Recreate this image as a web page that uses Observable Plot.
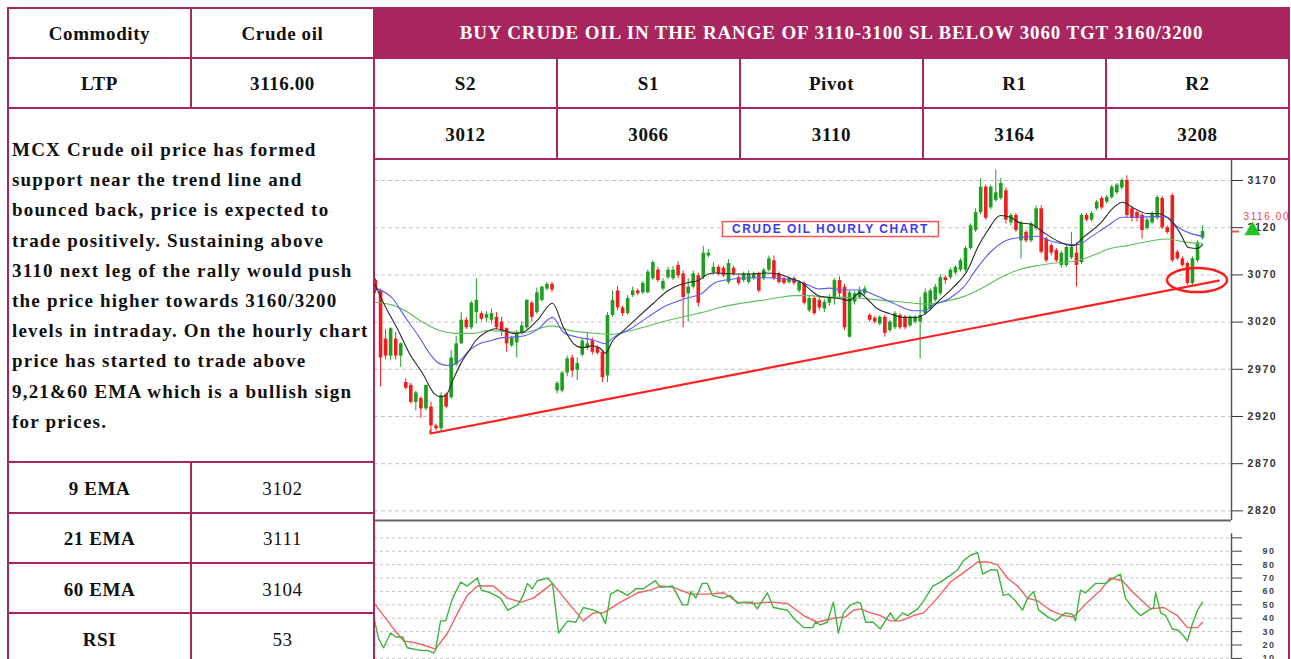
<!DOCTYPE html>
<html>
<head>
<meta charset="utf-8">
<script src="https://cdn.jsdelivr.net/npm/d3@7"></script>
<script src="https://cdn.jsdelivr.net/npm/@observablehq/plot@0.6"></script>
<style>
html,body{margin:0;padding:0;background:#fff;}
#page{position:relative;width:1291px;height:659px;overflow:hidden;font-family:"Liberation Serif","Times New Roman",serif;color:#111;}
.cell{position:absolute;display:flex;align-items:center;justify-content:center;font-weight:bold;font-size:19px;letter-spacing:0.6px;}
.reg{font-weight:normal;}
.ln{position:absolute;background:#a8255e;z-index:10;}
#head{position:absolute;left:374px;top:8px;width:915px;height:50px;background:#a8255e;color:#fff;display:flex;align-items:center;justify-content:center;font-weight:bold;font-size:19px;letter-spacing:0.85px;}
#para{position:absolute;left:12px;top:135px;font-weight:bold;font-size:19px;line-height:30.2px;white-space:nowrap;letter-spacing:1.2px;}
.chart{position:absolute;left:374px;z-index:1;}
</style>
</head>
<body>
<div id="page">
  <div id="head">BUY CRUDE OIL IN THE RANGE OF 3110-3100 SL BELOW 3060 TGT 3160/3200</div>
  <div id="para"></div>
</div>
<script>
// ---------- table texts ----------
const infoLabels = ["Commodity", "LTP"];
const infoValues = ["Crude oil", "3116.00"];
const pivotNames = ["S2", "S1", "Pivot", "R1", "R2"];
const pivotValues = [3012, 3066, 3110, 3164, 3208];
const indNames = ["9 EMA", "21 EMA", "60 EMA", "RSI"];
const indValues = [3102, 3111, 3104, 53];
const commentLines = [
  "MCX Crude oil price has formed",
  "support near the trend line and",
  "bounced back, price is expected to",
  "trade positively. Sustaining above",
  "3110 next leg of the rally would push",
  "the price higher towards 3160/3200",
  "levels in intraday. On the hourly chart",
  "price has started to trade above",
  "9,21&60 EMA which is a bullish sign",
  "for prices."
];

// ---------- candle data (hourly) ----------
const opens = [
3064,3053,3002,2984,3002,2984,2956,2953,2935,2939,
2928,2930,2910,2907,2943,2940,2975,2997,3022,3014,
3030,3029,3024,3022,3025,3020,3013,2995,2998,3008,
3014,3040,3030,3043,3055,3060,2947,2947,2966,2982,
2969,2985,2992,3000,2993,2988,2963,3027,3053,3035,
3029,3048,3053,3051,3051,3066,3075,3055,3067,3066,
3080,3071,3050,3057,3069,3067,3090,3072,3078,3077,
3062,3077,3067,3064,3062,3066,3071,3066,3075,3085,
3071,3066,3062,3066,3053,3061,3032,3045,3043,3034,
3040,3045,3064,3057,3004,3041,3046,3050,3027,3024,
3018,3025,3011,3014,3027,3025,3016,3020,3020,3029,
3034,3043,3050,3067,3067,3072,3075,3075,3098,3117,
3136,3163,3141,3149,3151,3159,3125,3133,3106,3115,
3106,3119,3140,3108,3101,3096,3080,3080,3088,3093,
3083,3133,3128,3140,3151,3147,3152,3157,3162,3170,
3140,3136,3133,3119,3125,3130,3151,3120,3154,3094,
3087,3082,3061,3085,3109];
const highs = [
3066,3055,3012,3014,3009,2998,2960,2955,2947,2941,
2953,2935,2912,2945,2945,2990,3005,3030,3025,3042,
3066,3031,3031,3034,3030,3025,3014,3005,3011,3020,
3044,3042,3056,3058,3062,3062,2957,2968,2984,2985,
2982,3002,3009,3003,2995,2990,3030,3053,3058,3037,
3048,3057,3055,3063,3075,3085,3078,3066,3078,3079,
3084,3074,3066,3074,3072,3100,3097,3083,3080,3079,
3086,3079,3069,3073,3074,3073,3073,3077,3090,3090,
3073,3068,3068,3068,3064,3063,3048,3047,3046,3044,
3049,3066,3068,3060,3053,3052,3057,3058,3029,3026,
3027,3027,3022,3031,3029,3027,3027,3027,3046,3055,
3055,3060,3070,3069,3077,3080,3087,3100,3124,3140,
3172,3165,3165,3181,3172,3162,3135,3135,3127,3117,
3126,3143,3143,3110,3103,3098,3095,3101,3115,3104,
3135,3135,3137,3149,3153,3154,3165,3167,3172,3175,
3142,3138,3135,3130,3137,3154,3153,3122,3156,3096,
3089,3084,3089,3106,3122];
const lows = [
3050,2951,2980,2979,2980,2972,2948,2933,2926,2918,
2926,2905,2905,2903,2928,2938,2973,2996,3012,3012,
3018,3021,3020,3018,3012,3005,2988,2993,2982,3006,
3012,3020,3028,3041,3053,3051,2944,2945,2962,2961,
2958,2983,2990,2985,2985,2956,2956,3025,3032,3026,
3027,3046,3048,3049,3050,3064,3062,3053,3065,3064,
3066,3014,3020,3055,3036,3065,3088,3070,3069,3067,
3060,3069,3059,3062,3060,3064,3051,3064,3073,3064,
3060,3059,3060,3059,3051,3038,3030,3027,3032,3030,
3037,3038,3046,3011,3003,3038,3044,3048,3020,3018,
3016,3004,3009,3012,3012,3012,3014,3018,2981,3027,
3032,3041,3048,3060,3065,3070,3073,3073,3096,3115,
3134,3128,3139,3147,3149,3124,3122,3115,3087,3104,
3104,3117,3092,3083,3090,3083,3077,3078,3086,3057,
3081,3126,3126,3138,3139,3145,3150,3155,3160,3130,
3126,3126,3108,3117,3123,3128,3118,3113,3083,3085,
3078,3059,3059,3083,3107];
const closes = [
3053,2982,2984,3013,2984,2997,2950,2935,2945,2928,
2953,2910,2907,2942,2930,2982,2997,3022,3014,3040,
3043,3023,3028,3029,3014,3010,2997,3003,3008,3016,
3043,3025,3051,3057,3060,3054,2955,2966,2981,2968,
2976,3000,2997,2988,2987,2961,3027,3043,3035,3029,
3045,3053,3050,3061,3073,3083,3064,3063,3075,3075,
3069,3046,3057,3071,3040,3093,3093,3078,3071,3069,
3082,3071,3061,3071,3071,3071,3053,3075,3087,3066,
3062,3061,3066,3061,3062,3040,3045,3029,3035,3041,
3046,3064,3050,3014,3051,3050,3053,3055,3022,3020,
3025,3008,3020,3029,3014,3014,3025,3025,3027,3051,
3053,3057,3067,3064,3075,3078,3085,3098,3122,3136,
3163,3130,3163,3157,3167,3128,3133,3117,3125,3106,
3124,3140,3094,3085,3093,3085,3093,3099,3099,3080,
3133,3128,3135,3147,3141,3152,3163,3165,3170,3133,
3130,3130,3117,3128,3135,3152,3120,3115,3085,3087,
3080,3061,3087,3104,3116];

// moving averages: [bar index, price]
const ema9 = [[-0.2,3061],[1.8,3038],[4.8,3008],[6.7,2987],[9.3,2966],[11.7,2944],[12.7,2941],[13.9,2942],[15.3,2958],[16.9,2976],[18.6,2990],[19.8,3000],[21.8,3009],[23.8,3013],[25.6,3011],[27.2,3008],[29.1,3009],[32.1,3022],[35.1,3040],[37.3,3014],[39.3,2997],[41.0,2993],[43.0,2995],[44.6,2992],[45.6,2987],[47.0,3000],[49.2,3011],[52.0,3025],[55.1,3040],[57.9,3053],[60.1,3059],[62.1,3062],[64.0,3064],[66.0,3071],[67.4,3072],[71.4,3071],[74.6,3071],[77.3,3072],[79.9,3071],[82.5,3066],[84.5,3062],[86.5,3053],[87.8,3048],[90.0,3046],[91.8,3045],[94.0,3043],[96.0,3051],[97.4,3045],[99.3,3035],[101.9,3029],[104.7,3025],[107.3,3025],[109.3,3030],[111.8,3043],[114.6,3057],[117.4,3075],[119.4,3099],[121.4,3117],[123.9,3133],[125.9,3131],[127.9,3125],[129.9,3124],[132.5,3115],[135.2,3106],[138.4,3101],[140.4,3110],[143.8,3125],[146.3,3141],[148.1,3147],[150.3,3141],[153.1,3135],[155.1,3135],[157.6,3128],[159.6,3114],[161.2,3099],[163.0,3098],[164.0,3102]];
const ema21 = [[0,3056],[3.4,3045],[5.9,3025],[8.7,3004],[10.7,2987],[12.7,2976],[14.7,2974],[16.7,2979],[18.6,2990],[20.6,2997],[22.6,3000],[24.6,3003],[26.6,3004],[29.1,3005],[32.1,3012],[35.1,3025],[37.3,3009],[40.1,3004],[43.2,3001],[45.6,2997],[47.0,3003],[50.6,3013],[53.9,3025],[57.9,3038],[61.5,3045],[64.6,3050],[67.4,3062],[71.4,3066],[75.4,3067],[77.9,3067],[80.5,3066],[83.3,3064],[85.9,3059],[87.8,3055],[90.0,3056],[92.8,3054],[96.0,3054],[99.3,3048],[102.7,3040],[106.7,3032],[108.7,3032],[110.6,3038],[113.8,3045],[116.6,3057],[119.4,3078],[121.9,3094],[125.3,3107],[128.5,3110],[131.3,3111],[133.8,3106],[136.4,3103],[139.2,3102],[141.8,3110],[145.2,3122],[148.1,3131],[151.1,3131],[155.1,3132],[157.0,3131],[159.0,3121],[161.6,3114],[164.0,3111]];
const ema60 = [[-0.4,3041],[3.4,3038],[5.9,3032],[9.3,3020],[12.7,3011],[15.9,3008],[19.2,3008],[22.6,3011],[25.8,3010],[29.1,3009],[35.1,3016],[38.7,3011],[44.0,3008],[46.6,3007],[52.0,3013],[58.1,3022],[62.1,3027],[64.6,3030],[68.6,3036],[72.6,3040],[76.5,3043],[79.9,3046],[83.3,3048],[86.5,3048],[87.8,3047],[94.0,3046],[100.7,3043],[106.7,3040],[109.3,3039],[113.8,3043],[116.6,3047],[120.6,3057],[123.9,3067],[127.3,3075],[131.3,3080],[133.8,3082],[139.2,3085],[142.4,3091],[145.7,3098],[149.1,3101],[153.7,3106],[157.0,3108],[160.2,3105],[164.0,3103]];
const trendLine = [[10.9,2905],[10.9,2902],[167.2,3064]];
const supportZone = [{i: 163.0, p: 3064}];
const ltp = 3116;
const chartTitle = {i: 90.2, p: 3118.6, text: "CRUDE OIL HOURLY CHART"};
const priceTicks = [2820,2870,2920,2970,3020,3070,3120,3170];

// RSI(14) and its signal: [bar index, value]
const rsiLine = [[-0.4,42],[0.6,25],[1.6,18],[3.0,29],[4.0,26],[5.4,26],[6.3,18],[7.5,17],[8.9,16],[10.3,16],[11.5,14],[11.9,16],[12.9,38],[13.9,38],[15.3,55],[16.9,67],[18.2,64],[20.2,70],[21.0,61],[22.8,59],[24.8,55],[26.2,46],[28.2,50],[29.3,57],[30.1,66],[31.1,62],[32.1,68],[34.1,70],[35.1,66],[36.3,29],[38.1,38],[39.7,37],[41.2,48],[43.2,46],[44.6,44],[45.6,36],[46.6,58],[48.0,61],[50.0,57],[51.6,62],[53.1,62],[55.5,68],[56.5,63],[58.9,64],[60.9,50],[61.9,50],[62.5,60],[63.5,55],[64.8,66],[65.8,66],[66.8,57],[68.8,55],[70.4,57],[71.8,51],[73.0,52],[74.8,52],[75.7,47],[77.7,59],[78.9,48],[81.7,46],[82.9,40],[84.9,33],[86.7,33],[87.2,37],[88.2,35],[89.6,37],[90.8,52],[91.8,29],[92.8,44],[94.2,50],[95.6,52],[96.2,51],[97.2,37],[98.7,37],[100.1,32],[102.1,44],[103.1,38],[104.5,44],[105.5,42],[107.5,47],[108.7,53],[110.5,64],[112.0,67],[114.0,72],[115.4,76],[116.6,83],[118.0,87],[119.4,89],[120.4,73],[122.0,76],[123.3,76],[124.5,57],[125.5,58],[126.9,53],[128.3,46],[129.3,55],[130.5,60],[131.5,46],[133.3,41],[134.8,38],[136.8,44],[138.2,43],[138.8,38],[139.8,61],[140.8,59],[142.8,66],[144.8,66],[146.3,70],[147.7,73],[148.7,55],[150.1,48],[151.7,42],[153.3,46],[154.3,48],[154.7,59],[155.7,44],[156.7,42],[158.0,32],[159.2,31],[160.2,27],[161.0,23],[162.0,36],[163.0,46],[164.0,52]];
const rsiSignal = [[-0.4,52],[1.6,42],[3.6,32],[5.6,23],[7.5,22],[9.5,20],[11.9,17],[14.3,29],[16.3,44],[18.2,57],[20.2,64],[23.4,64],[26.2,55],[28.8,52],[31.3,55],[35.1,66],[38.1,52],[41.2,38],[43.2,44],[45.2,44],[48.6,52],[52.0,59],[54.5,61],[56.5,64],[59.1,63],[62.5,58],[65.8,58],[69.0,59],[71.8,52],[75.0,51],[78.3,52],[81.7,51],[84.9,42],[87.6,37],[90.8,40],[93.2,41],[94.8,46],[96.2,47],[98.2,44],[100.1,42],[102.1,38],[104.1,38],[106.7,42],[108.7,44],[111.4,55],[114.0,67],[116.6,74],[119.4,82],[121.4,82],[123.3,80],[125.3,70],[127.3,64],[129.3,55],[131.3,53],[133.8,46],[136.4,42],[138.4,41],[141.2,52],[143.8,61],[145.7,70],[148.1,68],[150.3,59],[153.7,47],[156.3,48],[159.0,42],[161.0,33],[163.0,33],[164.0,37]];
const rsiTicks = [10,20,30,40,50,60,70,80,90,100];

// ---------- HTML table ----------
const page = document.getElementById("page");
function cell(x, y, w, h, text, cls) {
  const d = document.createElement("div");
  d.className = "cell" + (cls ? " " + cls : "");
  Object.assign(d.style, {left: x + "px", top: y + "px", width: w + "px", height: h + "px"});
  d.textContent = text;
  page.appendChild(d);
}
infoLabels.forEach((t, k) => cell(9, 10 + 50 * k, 181, 48, t));
infoValues.forEach((t, k) => cell(192, 10 + 50 * k, 181, 48, t));
pivotNames.forEach((t, k) => cell(375 + 183 * k, 60, 181, 48, t));
pivotValues.forEach((t, k) => cell(375 + 183 * k, 110, 181, 49, String(t)));
indNames.forEach((t, k) => cell(9, 465 + 50.3 * k, 181, 48, t));
indValues.forEach((t, k) => cell(192, 465 + 50.3 * k, 181, 48, String(t), "reg"));
document.getElementById("para").innerHTML = commentLines.join("<br>");

const hLines = [[7,7,1290],[57,7,1290],[107,7,1290],[158,373,1290],[461,7,375],[512,7,375],[562,7,375],[612,7,375]];
const vLines = [[7,7,659],[190,7,108],[190,461,659],[373,7,659],[556,57,159],[739,57,159],[922,57,159],[1105,57,159],[1288,7,659]];
hLines.forEach(([y, x1, x2]) => { const d = document.createElement("div"); d.className = "ln"; Object.assign(d.style, {left: x1 + "px", top: y + "px", width: (x2 - x1) + "px", height: "2px"}); page.appendChild(d); });
vLines.forEach(([x, y1, y2]) => { const d = document.createElement("div"); d.className = "ln"; Object.assign(d.style, {left: x + "px", top: y1 + "px", width: "2px", height: (y2 - y1) + "px"}); page.appendChild(d); });

// ---------- charts ----------
const RED = "#f21c1c", GREEN = "#1e9e1e";
const candles = opens.map((o, i) => ({i, o, h: highs[i], l: lows[i], c: closes[i]}));
const candleColor = d => d.c >= d.o ? GREEN : RED;
const X_DOMAIN = [-0.2, 169.74];
const Y_DOMAIN = [2809.8, 3191.2];
const svgStyle = {fontFamily: "'Liberation Sans', Arial, sans-serif", letterSpacing: "1.6px", overflow: "hidden", background: "transparent"};

const priceChart = Plot.plot({
  width: 915, height: 362,
  marginLeft: 0, marginRight: 58, marginTop: 0, marginBottom: 2,
  style: svgStyle,
  x: {domain: X_DOMAIN, axis: null},
  y: {domain: Y_DOMAIN, axis: null},
  marks: [
    Plot.gridY(priceTicks, {stroke: "#c4c4c4", strokeOpacity: 1, strokeDasharray: "4 3"}),
    Plot.ruleY([Y_DOMAIN[0]], {stroke: "#666", strokeWidth: 2}),
    Plot.ruleX([X_DOMAIN[1]], {stroke: "#555", strokeWidth: 1.5}),
    Plot.axisY(priceTicks, {anchor: "right", tickSize: 11, tickPadding: 5, tickFormat: d => String(d), fontSize: 10.5, fontWeight: "bold", color: "#333"}),
    Plot.ruleX(candles, {x: "i", y1: "l", y2: "h", stroke: candleColor, strokeWidth: 1}),
    Plot.ruleX(candles, {x: "i", y1: "o", y2: "c", stroke: candleColor, strokeWidth: 3.6}),
    Plot.line(ema60, {stroke: "#5cbf5c", strokeWidth: 1.1, curve: "monotone-x"}),
    Plot.line(ema21, {stroke: "#5a5af5", strokeWidth: 1.1, curve: "monotone-x"}),
    Plot.line(ema9, {stroke: "#2a2a2a", strokeWidth: 1.1, curve: "monotone-x"}),
    Plot.line(trendLine, {stroke: "#ff2222", strokeWidth: 2.2}),
    Plot.dot(supportZone, {x: "i", y: "p", render: (index, scales, values) => {
      const g = d3.create("svg:g");
      g.append("ellipse").attr("cx", values.x[0]).attr("cy", values.y[0]).attr("rx", 30).attr("ry", 12)
        .attr("fill", "none").attr("stroke", "#ff1a1a").attr("stroke-width", 2.4);
      return g.node();
    }}),
    Plot.text([chartTitle], {x: "i", y: "p", text: "text", fill: "#3a3af0", fontSize: 12, fontWeight: "bold",
      render: (index, scales, values, dims, ctx, next) => {
        const g = next(index, scales, values, dims, ctx);
        g.setAttribute("letter-spacing", "1.5px");
        const r = document.createElementNS("http://www.w3.org/2000/svg", "rect");
        r.setAttribute("x", values.x[0] - 108); r.setAttribute("y", values.y[0] - 7.5);
        r.setAttribute("width", 216); r.setAttribute("height", 15);
        r.setAttribute("fill", "#fff"); r.setAttribute("stroke", "#f05a5a"); r.setAttribute("stroke-width", 1.5);
        g.insertBefore(r, g.firstChild);
        return g;
      }}),
    Plot.ruleY([ltp], {x1: X_DOMAIN[1] + 0.1, x2: X_DOMAIN[1] + 1.6, stroke: "#f05050", strokeWidth: 2}),
    Plot.text([ltp], {y: d => d, frameAnchor: "right", textAnchor: "start", dx: 12, dy: -15, text: d => d.toFixed(2), fill: "#f04848", fontSize: 10}),
    Plot.dot([ltp], {y: d => d, frameAnchor: "right", dx: 21, dy: -1, symbol: "triangle", r: 6, fill: "#22c322", stroke: "none"})
  ]
});
priceChart.classList.add("chart");
priceChart.style.top = "160px";
page.appendChild(priceChart);

const rsiChart = Plot.plot({
  width: 915, height: 134,
  marginLeft: 0, marginRight: 58, marginTop: 0, marginBottom: 0,
  style: svgStyle,
  x: {domain: X_DOMAIN, axis: null},
  y: {domain: [9.2, 109.2], axis: null},
  marks: [
    Plot.gridY(rsiTicks, {stroke: "#c4c4c4", strokeOpacity: 1, strokeDasharray: "3 3"}),
    Plot.ruleX([X_DOMAIN[1]], {y1: 5, y2: 103, stroke: "#555", strokeWidth: 1.5}),
    Plot.axisY(rsiTicks, {anchor: "right", tickSize: 10, tickPadding: 21, tickFormat: d => d === 100 ? "" : String(d), fontSize: 9, fontWeight: "bold", color: "#444"}),
    Plot.line(rsiSignal, {stroke: "#f06060", strokeWidth: 1.4}),
    Plot.line(rsiLine, {stroke: "#3db43d", strokeWidth: 1.4})
  ]
});
rsiChart.classList.add("chart");
rsiChart.style.top = "525px";
page.appendChild(rsiChart);
</script>
</body>
</html>
